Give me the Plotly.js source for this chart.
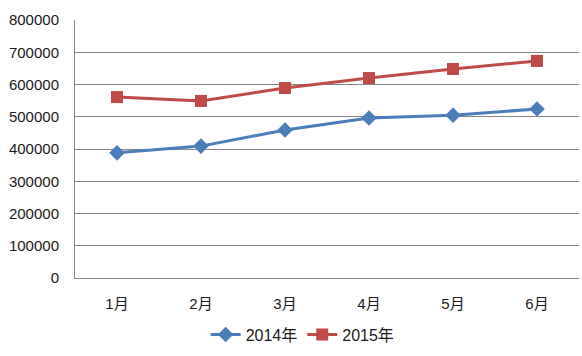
<!DOCTYPE html>
<html><head><meta charset="utf-8">
<script src="https://cdn.plot.ly/plotly-3.0.1.min.js"></script>
<style>html,body{margin:0;padding:0;background:#fff;}#chart{width:582px;height:356px;}</style>
</head><body><div id="chart"></div>
<script>
var months = ['1月','2月','3月','4月','5月','6月'];
var values2014 = [388000, 409000, 459000, 496000, 505000, 524000];
var values2015 = [561000, 549000, 589000, 620000, 648000, 673000];
var yTicks = [0,100000,200000,300000,400000,500000,600000,700000,800000];

var font = "'Liberation Sans','Noto Sans CJK SC', sans-serif";
var traces = [
  {x: months, y: values2014, name: '2014年', type: 'scatter', mode: 'lines+markers',
   line: {color: '#4a7ebb', width: 3}, marker: {symbol: 'diamond', size: 12, color: '#4a7ebb'}},
  {x: months, y: values2015, name: '2015年', type: 'scatter', mode: 'lines+markers',
   line: {color: '#be4b48', width: 3}, marker: {symbol: 'square', size: 12, color: '#be4b48'}}
];
var layout = {
  width: 582, height: 356,
  margin: {l: 75, r: 3, t: 20, b: 78, autoexpand: false},
  paper_bgcolor: '#fff', plot_bgcolor: '#fff',
  font: {family: font, size: 15, color: '#1a1a1a'},
  showlegend: true,
  legend: {orientation: 'h', x: 0.52, xanchor: 'center', xref: 'container', yref: 'container', y: 0.06, yanchor: 'middle', font: {size: 16}},
  xaxis: {type: 'category', showgrid: false, showline: true, linecolor: '#868686', linewidth: 1,
          ticks: '', tickfont: {size: 15}, range: [-0.5, 5.5], zeroline: false, ticklabelstandoff: 12, automargin: false},
  yaxis: {range: [0, 800000], tickvals: yTicks, ticktext: yTicks.map(String), showgrid: true,
          gridcolor: '#868686', gridwidth: 1, showline: true, linecolor: '#868686', zeroline: false,
          ticks: '', tickfont: {size: 15}, ticklabelstandoff: 12, automargin: false}
};
Plotly.newPlot('chart', traces, layout, {displayModeBar: false, staticPlot: true});
</script></body></html>
